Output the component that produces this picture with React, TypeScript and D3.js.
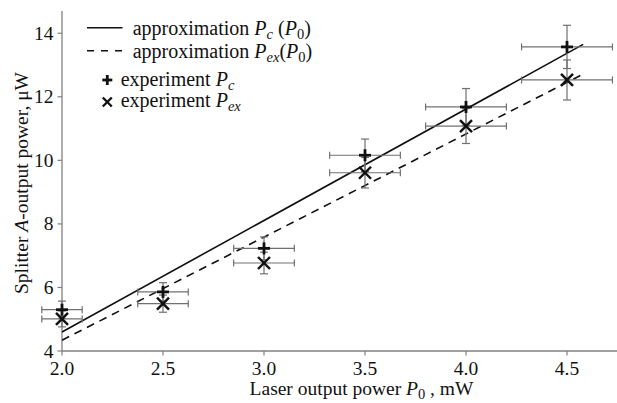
import React from "react";
import * as d3 from "d3";

const power = [2.0, 2.5, 3.0, 3.5, 4.0, 4.5];
const pc = [5.3, 5.86, 7.23, 10.16, 11.68, 13.57];
const pex = [5.01, 5.49, 6.77, 9.61, 11.08, 12.53];
const xErr = [0.1, 0.125, 0.15, 0.175, 0.2, 0.225];
const pcErr = [0.27, 0.29, 0.36, 0.51, 0.58, 0.68];
const pexErr = [0.25, 0.27, 0.34, 0.48, 0.55, 0.63];
const fitPc: [number, number][] = [[2.0, 4.6], [4.58, 13.65]];
const fitPex: [number, number][] = [[2.0, 4.34], [4.57, 12.68]];
const xTicks = [2.0, 2.5, 3.0, 3.5, 4.0, 4.5];
const yTicks = [4, 6, 8, 10, 12, 14];

const W = 617;
const H = 403;
const FONT = "Liberation Serif";
const FS = 19.5;
const LFS = 20;
const SUB = 14.5;
const AXIS = "#808080";
const ERR = "#707070";
const INK = "#111";

export default function App() {
  const x = d3.scaleLinear().domain([2.0, 4.75]).range([62, 617.5]);
  const y = d3.scaleLinear().domain([4, 14.7]).range([351, 11]);
  const line = d3
    .line<[number, number]>()
    .x((d) => x(d[0]))
    .y((d) => y(d[1]));

  const errBars = (vals: number[], yerr: number[], key: string) =>
    power.map((p, i) => {
      const cx = x(p);
      const cy = y(vals[i]);
      const x0 = x(p - xErr[i]);
      const x1 = x(p + xErr[i]);
      const y0 = y(vals[i] - yerr[i]);
      const y1 = y(vals[i] + yerr[i]);
      return (
        <g key={key + i} stroke={ERR} strokeWidth={1.2} fill="none">
          <line x1={x0} x2={x1} y1={cy} y2={cy} />
          <line x1={x0} x2={x0} y1={cy - 3.5} y2={cy + 3.5} />
          <line x1={x1} x2={x1} y1={cy - 3.5} y2={cy + 3.5} />
          <line x1={cx} x2={cx} y1={y0} y2={y1} />
          <line x1={cx - 4} x2={cx + 4} y1={y0} y2={y0} />
          <line x1={cx - 4} x2={cx + 4} y1={y1} y2={y1} />
        </g>
      );
    });

  const plus = (cx: number, cy: number, r: number, k: string) => (
    <g key={k} stroke={INK} strokeWidth={2.8}>
      <line x1={cx - r} x2={cx + r} y1={cy} y2={cy} />
      <line x1={cx} x2={cx} y1={cy - r} y2={cy + r} />
    </g>
  );
  const cross = (cx: number, cy: number, r: number, k: string) => (
    <g key={k} stroke={INK} strokeWidth={2.4}>
      <line x1={cx - r} x2={cx + r} y1={cy - r} y2={cy + r} />
      <line x1={cx - r} x2={cx + r} y1={cy + r} y2={cy - r} />
    </g>
  );

  const T = (props: any) => <text fontFamily={FONT} fill={INK} {...props} />;

  return (
    <svg
      width={W}
      height={H}
      style={{ position: "absolute", left: 0, top: 0, background: "#fff" }}
    >
      <rect width={W} height={H} fill="#fff" />
      {/* axes */}
      <line x1={x(2.0)} x2={x(2.0)} y1={y(14.7)} y2={y(4)} stroke={AXIS} strokeWidth={1.3} />
      <line x1={x(2.0)} x2={x(4.75)} y1={y(4)} y2={y(4)} stroke={AXIS} strokeWidth={1.3} />
      {yTicks.map((t) => (
        <g key={"yt" + t}>
          <line x1={x(2.0) - 4.5} x2={x(2.0)} y1={y(t)} y2={y(t)} stroke={AXIS} strokeWidth={1.2} />
          <T x={53.5} y={y(t) + 6.5} textAnchor="end" fontSize={FS}>
            {t}
          </T>
        </g>
      ))}
      {xTicks.map((t) => (
        <g key={"xt" + t}>
          <line x1={x(t)} x2={x(t)} y1={y(4)} y2={y(4) + 4.5} stroke={AXIS} strokeWidth={1.2} />
          <T x={x(t)} y={375} textAnchor="middle" fontSize={FS}>
            {t.toFixed(1)}
          </T>
        </g>
      ))}
      {/* axis labels */}
      <T x={361.5} y={395} textAnchor="middle" fontSize={FS}>
        Laser output power <tspan fontStyle="italic">P</tspan>
        <tspan fontSize={SUB} dy={4}>0</tspan>
        <tspan dy={-4}> , mW</tspan>
      </T>
      <T transform="translate(28,183) rotate(-90)" textAnchor="middle" fontSize={FS}>
        Splitter <tspan fontStyle="italic">A</tspan>-output power, μW
      </T>
      {/* fit lines */}
      <path d={line(fitPc) || ""} stroke={INK} strokeWidth={1.6} fill="none" />
      <path d={line(fitPex) || ""} stroke={INK} strokeWidth={1.6} fill="none" strokeDasharray="8,6" />
      {/* error bars */}
      {errBars(pc, pcErr, "pc")}
      {errBars(pex, pexErr, "pex")}
      {/* markers */}
      {power.map((p, i) => plus(x(p), y(pc[i]), 6, "mp" + i))}
      {power.map((p, i) => cross(x(p), y(pex[i]), 6, "mx" + i))}
      {/* legend */}
      <line x1={87} x2={122.5} y1={27.7} y2={27.7} stroke={INK} strokeWidth={1.4} />
      <T x={132.7} y={35} fontSize={LFS}>
        approximation <tspan fontStyle="italic">P</tspan>
        <tspan fontStyle="italic" fontSize={SUB} dy={4}>c</tspan>
        <tspan dy={-4}> (</tspan>
        <tspan fontStyle="italic">P</tspan>
        <tspan fontSize={SUB} dy={4}>0</tspan>
        <tspan dy={-4}>)</tspan>
      </T>
      <line x1={87} x2={122.5} y1={50.7} y2={50.7} stroke={INK} strokeWidth={1.4} strokeDasharray="7,7" />
      <T x={132.7} y={58.3} fontSize={LFS}>
        approximation <tspan fontStyle="italic">P</tspan>
        <tspan fontStyle="italic" fontSize={SUB} dy={4}>ex</tspan>
        <tspan dy={-4}>(</tspan>
        <tspan fontStyle="italic">P</tspan>
        <tspan fontSize={SUB} dy={4}>0</tspan>
        <tspan dy={-4}>)</tspan>
      </T>
      {plus(107.3, 80, 5, "lp")}
      <T x={120.7} y={85.5} fontSize={LFS}>
        experiment <tspan fontStyle="italic">P</tspan>
        <tspan fontStyle="italic" fontSize={SUB} dy={4}>c</tspan>
      </T>
      {cross(107.3, 102, 4.5, "lx")}
      <T x={120.7} y={107} fontSize={LFS}>
        experiment <tspan fontStyle="italic">P</tspan>
        <tspan fontStyle="italic" fontSize={SUB} dy={4}>ex</tspan>
      </T>
    </svg>
  );
}
